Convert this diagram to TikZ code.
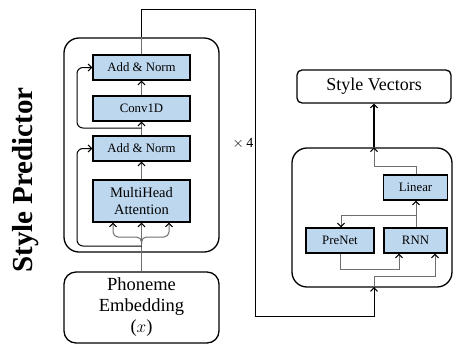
\documentclass[tikz,border=0pt]{standalone}
\usepackage{fontspec}
\setmainfont{Liberation Serif}
\usetikzlibrary{arrows.meta}
\definecolor{boxblue}{RGB}{189,215,238}
\definecolor{linegray}{RGB}{110,110,110}
\tikzset{
  blk/.style={draw=black, line width=1.2pt, fill=boxblue, inner sep=0pt, align=center,
    font=\fontsize{12.8}{14}\selectfont},
  outerbox/.style={draw=black, line width=1.3pt, rounded corners=15pt, inner sep=0pt},
  iobox/.style={draw=black, line width=1.3pt, inner sep=0pt, align=center},
  conn/.style={draw=linegray, line width=1pt},
  connarr/.style={-{Straight Barb[length=3.5pt,width=7pt,line width=1.1pt,color=black]}},
  gline/.style={draw=linegray, line width=1pt},
  bline/.style={draw=black, line width=1pt},
}
\begin{document}
\begin{tikzpicture}[x=1pt,y=-1pt]
\useasboundingbox (0,0) rectangle (453,346);
% encoder
\node[outerbox, minimum width=155pt, minimum height=214pt] (enc) at (141.5,145) {};
\node[blk, minimum width=97pt, minimum height=25pt] (an2) at (141.5,67.5) {Add \& Norm};
\node[blk, minimum width=97pt, minimum height=25pt] (conv) at (141.5,108.5) {Conv1D};
\node[blk, minimum width=97pt, minimum height=25pt] (an1) at (141.5,148.5) {Add \& Norm};
\node[blk, minimum width=97pt, minimum height=42pt, font=\fontsize{14.5}{16.5}\selectfont] (mha) at (141.5,201) {MultiHead\\Attention};
\node[iobox, rounded corners=12pt, minimum width=155pt, minimum height=71pt, font=\fontsize{18.5}{21}\selectfont] (phon) at (141.5,307.5) {Phoneme\\Embedding\\($x$)};
\node[rotate=90, font=\fontsize{29}{30}\selectfont\bfseries] (pred) at (26,180) {Style Predictor};
\node[font=\fontsize{14}{16}\selectfont] (times) at (243,143) {$\times$\,4};
% decoder
\node[outerbox, minimum width=160pt, minimum height=139pt] (dec) at (372,217.5) {};
\node[iobox, rounded corners=5pt, minimum width=154pt, minimum height=33pt, font=\fontsize{18}{20}\selectfont] (sv) at (374,86.5) {Style Vectors};
\node[blk, minimum width=64pt, minimum height=25pt] (lin) at (415.5,187.5) {Linear};
\node[blk, minimum width=68pt, minimum height=25pt] (pre) at (340,240.5) {PreNet};
\node[blk, minimum width=63pt, minimum height=25pt] (rnn) at (415.5,240.5) {RNN};
% coordinates
\coordinate (c0) at (141.5,246);
\coordinate (r1) at (141.5,128);
\coordinate (top) at (141.5,9);
\coordinate (tr) at (255,9);
\coordinate (br) at (255,316);
\coordinate (bl) at (374,316);
\coordinate (decin) at (374,287);
% encoder connectors
\path[gline] (phon.north) -- (enc.south -| phon.north);
\path[conn, connarr] (enc.south -| phon.north) -- (mha.south -| phon.north);
\path[conn, connarr, rounded corners=5pt] (141.5,244) |- (113,237) -- (113,222.5);
\path[conn, connarr, rounded corners=5pt] (141.5,244) |- (169,237) -- (169,222.5);
\path[bline, connarr, rounded corners=6pt] (c0) -- (77,246) |- (an1.west);
\path[conn, connarr] (mha.north -| 141.5,0) -- (an1.south -| 141.5,0);
\path[conn, connarr] (an1.north -| 141.5,0) -- (conv.south -| 141.5,0);
\path[bline, connarr, rounded corners=6pt] (r1) -- (77,128) |- (an2.west);
\path[conn, connarr] (conv.north -| 141.5,0) -- (an2.south -| 141.5,0);
\path[gline] (an2.north -| 141.5,0) -- (enc.north -| 141.5,0);
\path[bline] (enc.north -| 141.5,0) -- (top) -- (tr) -- (br) -- (bl) -- (decin);
% decoder connectors
\path[bline, connarr] (374,300) -- (decin);
\path[conn, connarr] (decin) -- (374,276) -| (rnn.south -| 435,0);
\path[conn, connarr] (pre.south) |- (399,269) -- (rnn.south -| 399,0);
\path[conn, connarr] (rnn.north -| 416,0) -- (lin.south -| 416,0);
\path[conn, connarr] (416,215) -| (pre.north -| 341,0);
\path[conn, connarr] (lin.north -| 416,0) |- (374,166) -- (dec.north -| 374,0);
\path[draw=black, line width=1.5pt, -{Straight Barb[length=3.5pt,width=7pt,line width=1.1pt]}] (dec.north -| 374,0) -- (sv.south -| 374,0);
\end{tikzpicture}
\end{document}
